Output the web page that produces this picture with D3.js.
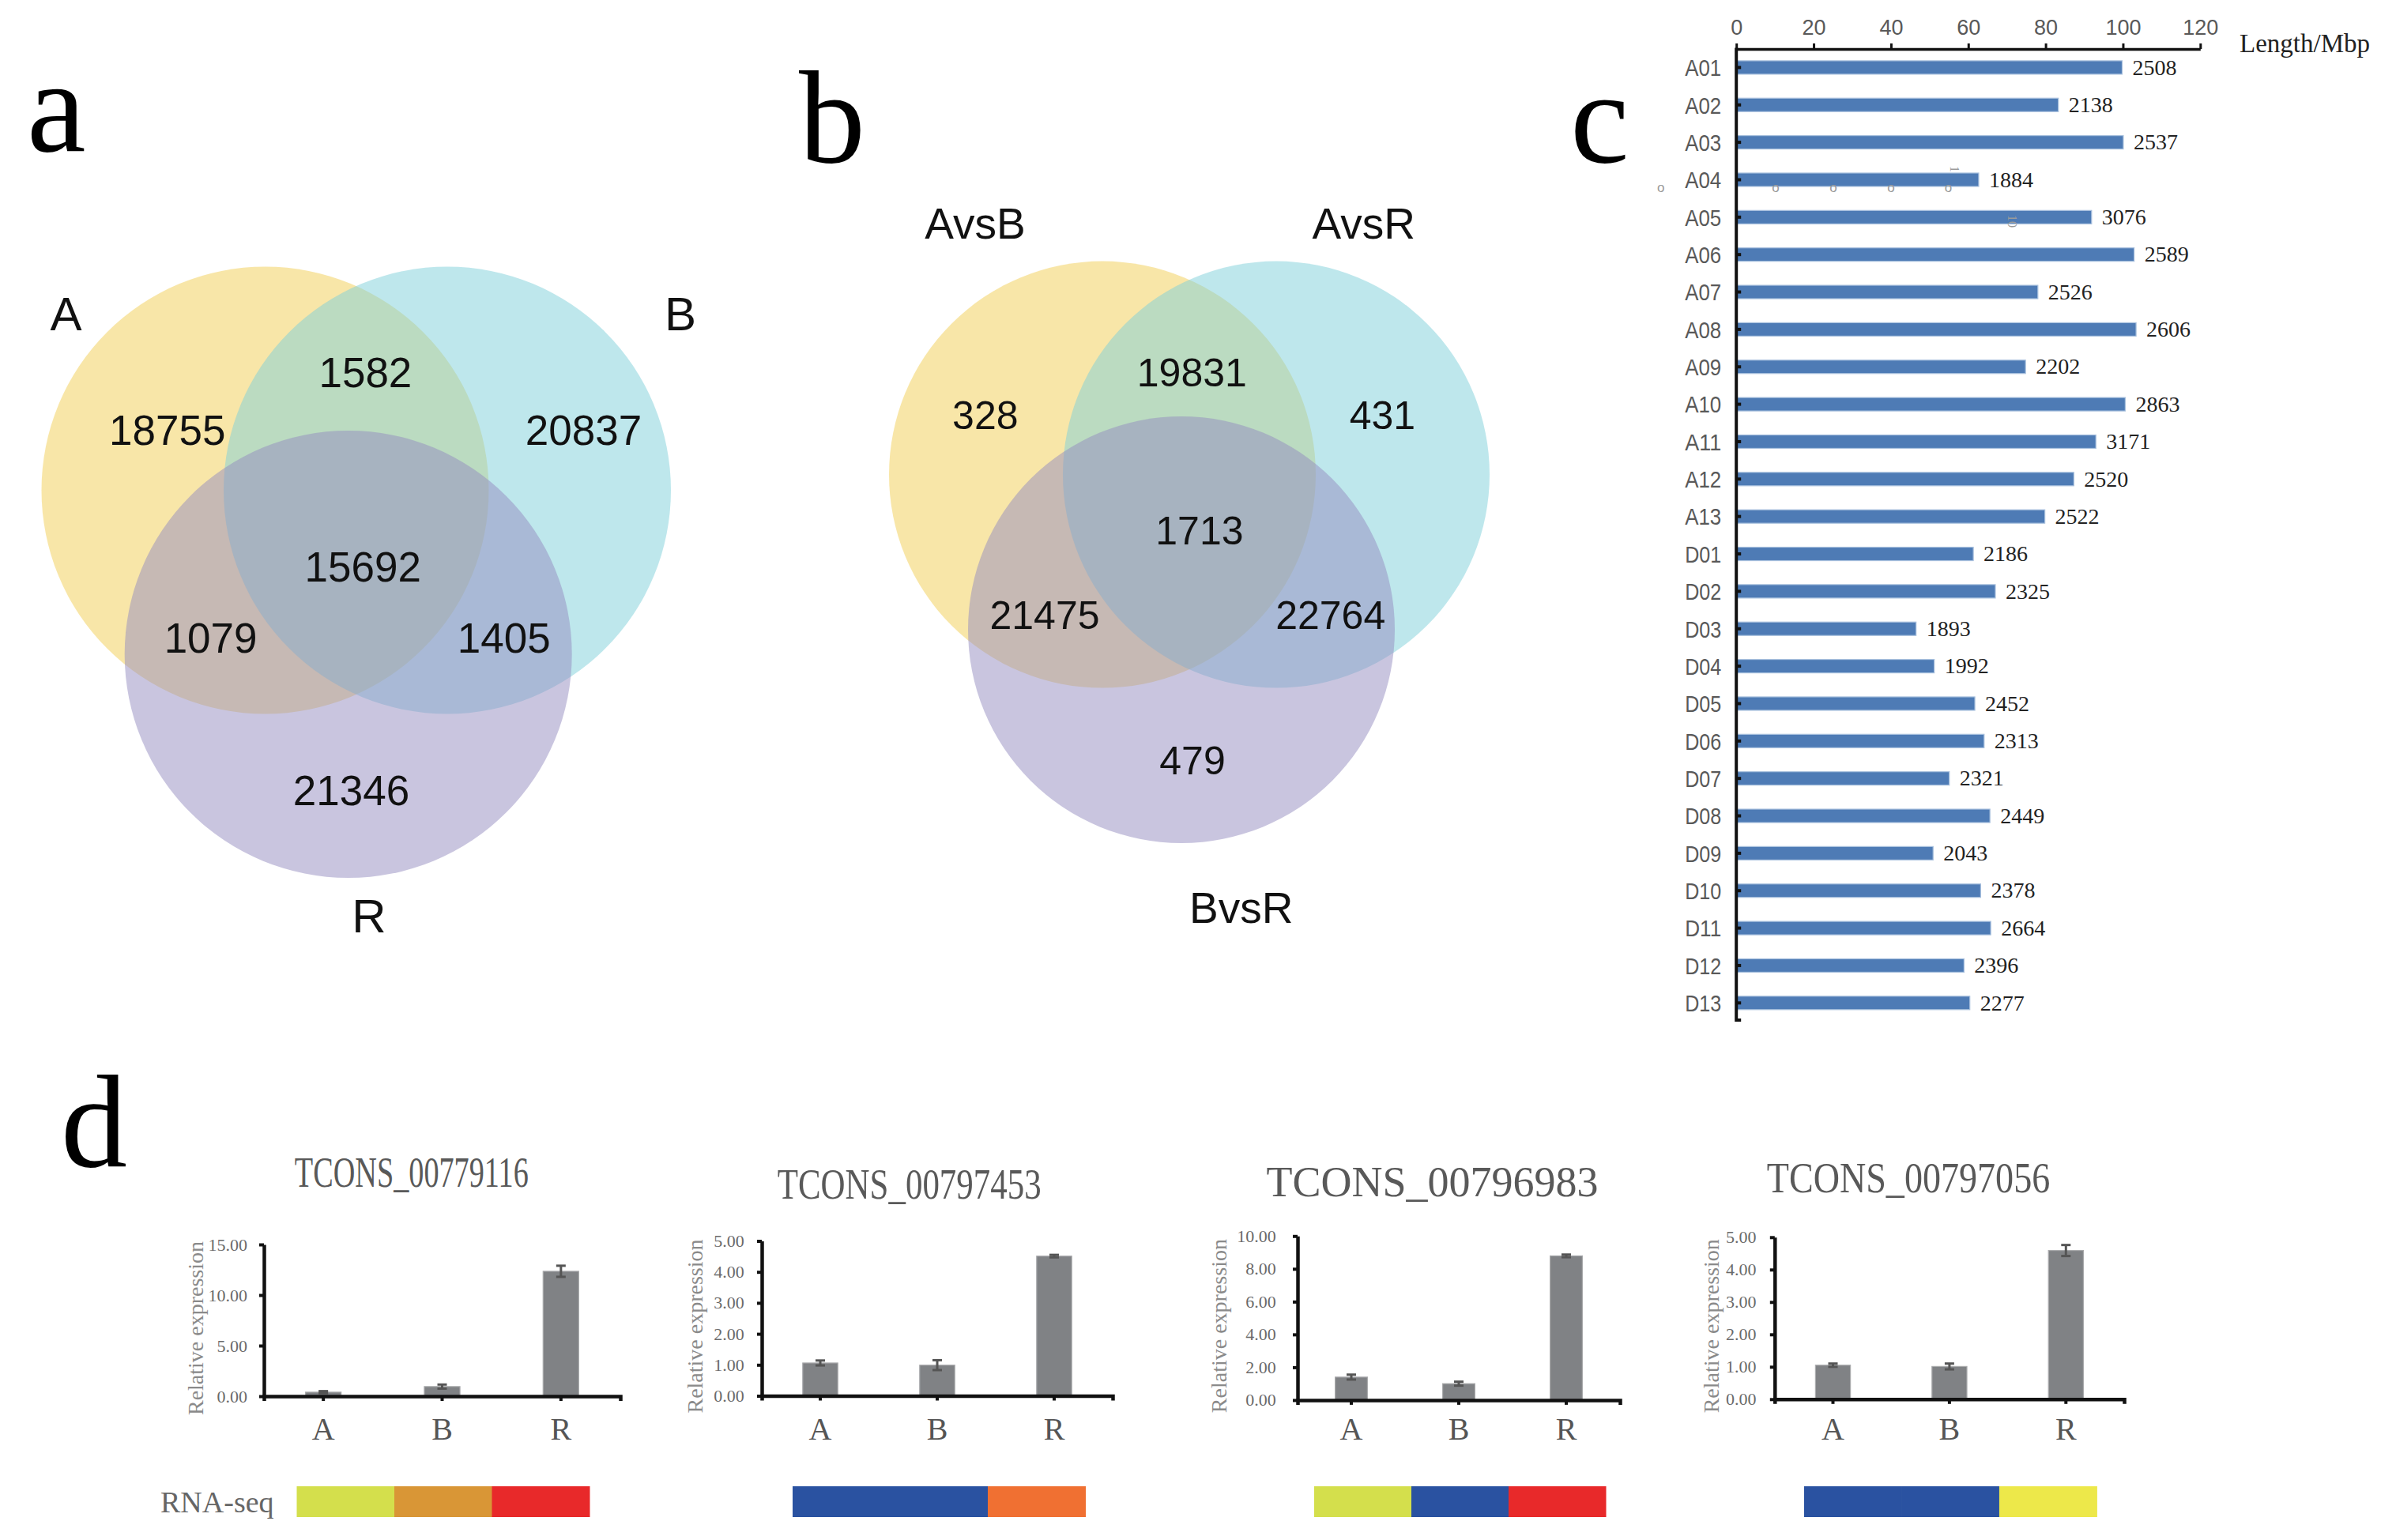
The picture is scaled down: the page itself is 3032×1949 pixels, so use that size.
<!DOCTYPE html>
<html>
<head>
<meta charset="utf-8">
<script src="https://cdn.jsdelivr.net/npm/d3@7/dist/d3.min.js"></script>
<style>
html,body{margin:0;padding:0;background:#fff;}
svg{display:block;}
</style>
</head>
<body>
<script>
// ---------------- DATA ----------------
// Panel a: Venn of lncRNA in A, B, R
const vennASets = ["A", "B", "R"];
const vennARegions = ["A", "B", "R", "AB", "AR", "BR", "ABR"];
const vennACounts = [18755, 20837, 21346, 1582, 1079, 1405, 15692];
// Panel b: Venn of comparisons
const vennBSets = ["AvsB", "AvsR", "BvsR"];
const vennBRegions = ["A", "B", "R", "AB", "AR", "BR", "ABR"];
const vennBCounts = [328, 431, 479, 19831, 21475, 22764, 1713];
// Panel c: chromosomes
const chromosomes = ["A01","A02","A03","A04","A05","A06","A07","A08","A09","A10","A11","A12","A13",
                     "D01","D02","D03","D04","D05","D06","D07","D08","D09","D10","D11","D12","D13"];
const chromLengthMbp = [99.8, 83.3, 100.1, 62.7, 91.9, 102.9, 78.0, 103.4, 74.8, 100.6, 93.0, 87.3, 79.8,
                        61.3, 67.0, 46.5, 51.2, 61.7, 64.1, 55.1, 65.6, 50.9, 63.2, 65.8, 58.9, 60.4];
const chromLncCount = [2508, 2138, 2537, 1884, 3076, 2589, 2526, 2606, 2202, 2863, 3171, 2520, 2522,
                       2186, 2325, 1893, 1992, 2452, 2313, 2321, 2449, 2043, 2378, 2664, 2396, 2277];
const lengthTicks = [0, 20, 40, 60, 80, 100, 120];
// Panel d: qRT-PCR
const genes = ["TCONS_00779116", "TCONS_00797453", "TCONS_00796983", "TCONS_00797056"];
const samples = ["A", "B", "R"];
const exprTCONS_00779116 = [0.40, 0.95, 12.35];
const errTCONS_00779116  = [0.10, 0.20, 0.55];
const exprTCONS_00797453 = [1.06, 0.99, 4.51];
const errTCONS_00797453  = [0.08, 0.16, 0.04];
const exprTCONS_00796983 = [1.40, 1.00, 8.79];
const errTCONS_00796983  = [0.15, 0.12, 0.08];
const exprTCONS_00797056 = [1.05, 1.01, 4.59];
const errTCONS_00797056  = [0.05, 0.09, 0.17];
const exprAxisMax  = [15, 5, 10, 5];
const exprAxisStep = [5, 1, 2, 1];
// RNA-seq heat strip colours (A, B, R)
const rnaSeqTCONS_00779116 = ["#D4DF4C", "#D99636", "#E8292A"];
const rnaSeqTCONS_00797453 = ["#2A52A1", "#2A52A1", "#F07032"];
const rnaSeqTCONS_00796983 = ["#D4DF4C", "#2A52A1", "#E8292A"];
const rnaSeqTCONS_00797056 = ["#2A52A1", "#2A52A1", "#EDE84A"];

// ---------------- LAYOUT ----------------
const W = 3032, H = 1949;
const SANS = "'Liberation Sans', Arial, sans-serif";
const SERIF = "'Liberation Serif', 'Times New Roman', serif";
const svg = d3.select("body").append("svg").attr("width", W).attr("height", H)
  .attr("viewBox", `0 0 ${W} ${H}`);

// Panel letters
const letters = [
  {t: "a", x: 34, y: 191},
  {t: "b", x: 1011, y: 205},
  {t: "c", x: 1987, y: 205},
  {t: "d", x: 77, y: 1476}
];
svg.selectAll("text.letter").data(letters).join("text")
  .attr("class", "letter").attr("x", d => d.x).attr("y", d => d.y)
  .attr("font-family", SERIF).attr("font-size", 168).attr("fill", "#000")
  .text(d => d.t);

// ---------------- VENN ----------------
const vennColors = ["#F1CD51", "#7DCFD9", "#938BBF"];
function drawVenn(g, sets, regions, counts, L) {
  g.selectAll("circle").data(sets).join("circle")
    .attr("cx", (d, i) => L.circles[i][0]).attr("cy", (d, i) => L.circles[i][1])
    .attr("r", L.r).attr("fill", (d, i) => vennColors[i]).attr("fill-opacity", 0.5);
  g.selectAll("text.cnt").data(regions).join("text").attr("class", "cnt")
    .attr("x", d => L.regionPos[d][0]).attr("y", d => L.regionPos[d][1] + 0.36 * L.numSize)
    .attr("text-anchor", "middle").attr("font-family", SANS).attr("font-size", L.numSize)
    .attr("fill", "#111").text((d, i) => counts[i]);
  g.selectAll("text.set").data(sets).join("text").attr("class", "set")
    .attr("x", (d, i) => L.setPos[i][0]).attr("y", (d, i) => L.setPos[i][1] + 0.36 * L.setSize)
    .attr("text-anchor", "middle").attr("font-family", SANS).attr("font-size", L.setSize)
    .attr("fill", "#111").text(d => d);
}
drawVenn(svg.append("g"), vennASets, vennARegions, vennACounts, {
  circles: [[335.5, 620.5], [566, 620.5], [440.7, 828]], r: 283,
  regionPos: {A: [211.7, 543.5], B: [738.5, 543.5], R: [444.5, 1000], AB: [462.4, 470.8],
              AR: [266.6, 807.4], BR: [637.8, 807.4], ABR: [459.2, 716.5]},
  setPos: [[83.5, 396], [861, 396], [467, 1158]], numSize: 53, setSize: 60
});
drawVenn(svg.append("g"), vennBSets, vennBRegions, vennBCounts, {
  circles: [[1395, 600.6], [1615, 600.6], [1495, 797]], r: 270,
  regionPos: {A: [1246.8, 525.3], B: [1749.4, 525.3], R: [1509, 961.6], AB: [1508.3, 470.8],
              AR: [1322, 778.3], BR: [1683.7, 778.3], ABR: [1517.9, 670.7]},
  setPos: [[1234, 281.8], [1725.8, 281.8], [1570.8, 1148.4]], numSize: 50, setSize: 55
});

// ---------------- PANEL C ----------------
(function () {
  const g = svg.append("g");
  const x = d3.scaleLinear().domain([0, 120]).range([2197.2, 2784.3]);
  const y = d3.scalePoint().domain(chromosomes).range([85.4, 1269.3]);
  const axisY = 62, axisBottom = 1293;
  // bars
  g.selectAll("rect.bar").data(chromosomes).join("rect").attr("class", "bar")
    .attr("x", x(0)).attr("y", d => y(d) - 8.5)
    .attr("width", (d, i) => x(chromLengthMbp[i]) - x(0)).attr("height", 17)
    .attr("fill", "#4E7BB5").attr("stroke", "#A9C1DE").attr("stroke-width", 1.2);
  // count labels
  g.selectAll("text.cnt").data(chromosomes).join("text").attr("class", "cnt")
    .attr("x", (d, i) => x(chromLengthMbp[i]) + 13).attr("y", d => y(d)).attr("dy", "0.33em")
    .attr("font-family", SERIF).attr("font-size", 28).attr("fill", "#222")
    .text((d, i) => chromLncCount[i]);
  // top axis
  const ax = g.append("g").attr("transform", `translate(0,${axisY})`)
    .call(d3.axisTop(x).tickValues(lengthTicks).tickSize(7).tickSizeOuter(0));
  ax.select(".domain").attr("stroke", "#111").attr("stroke-width", 3.5);
  ax.selectAll(".tick line").attr("stroke", "#111").attr("stroke-width", 3);
  ax.selectAll(".tick text").attr("y", -18).attr("dy", 0)
    .attr("font-family", SANS).attr("font-size", 27).attr("fill", "#595959");
  // left axis line
  g.append("line").attr("x1", x(0)).attr("x2", x(0)).attr("y1", axisY - 1.5).attr("y2", axisBottom)
    .attr("stroke", "#111").attr("stroke-width", 4);
  g.selectAll("line.tk").data(chromosomes.concat(["__end"])).join("line").attr("class", "tk")
    .attr("x1", x(0)).attr("x2", x(0) + 6)
    .attr("y1", d => d === "__end" ? axisBottom - 2 : y(d)).attr("y2", d => d === "__end" ? axisBottom - 2 : y(d))
    .attr("stroke", "#111").attr("stroke-width", 4);
  // chromosome labels
  g.selectAll("text.chr").data(chromosomes).join("text").attr("class", "chr")
    .attr("x", x(0) - 19).attr("y", d => y(d)).attr("dy", "0.36em").attr("text-anchor", "end")
    .attr("font-family", SANS).attr("font-size", 30).attr("fill", "#595959")
    .attr("textLength", 46).attr("lengthAdjust", "spacingAndGlyphs")
    .text(d => d);
  // unit label
  g.append("text").attr("x", 2834).attr("y", 66).attr("font-family", SERIF).attr("font-size", 33)
    .attr("fill", "#222").text("Length/Mbp");
  // faint stray glyphs present in the original figure
  const stray = [[2101.7, 243], [2247, 243], [2320, 243], [2393, 243], [2465.5, 243]];
  g.selectAll("text.stray").data(stray).join("text").attr("class", "stray")
    .attr("x", d => d[0]).attr("y", d => d[1]).attr("text-anchor", "middle")
    .attr("font-family", SANS).attr("font-size", 17).attr("fill", "#9a9a9a").text("o");
  g.append("text").attr("transform", "translate(2468,214) rotate(90)").attr("text-anchor", "middle")
    .attr("font-family", SERIF).attr("font-size", 16).attr("fill", "#9a9a9a").text("1");
  g.append("text").attr("transform", "translate(2541,280) rotate(90)").attr("text-anchor", "middle")
    .attr("font-family", SERIF).attr("font-size", 16).attr("fill", "#9a9a9a").text("10");
})();

// ---------------- PANEL D ----------------
const exprSeries = [exprTCONS_00779116, exprTCONS_00797453, exprTCONS_00796983, exprTCONS_00797056];
const errSeries = [errTCONS_00779116, errTCONS_00797453, errTCONS_00796983, errTCONS_00797056];
const rnaSeqSeries = [rnaSeqTCONS_00779116, rnaSeqTCONS_00797453, rnaSeqTCONS_00796983, rnaSeqTCONS_00797056];
const dLayout = [
  {x0: 334, x1: 785, y0: 1767, yTop: 1575, tX: 520.8, tY: 1501.6, tW: 296, ylX: 247.9, tickRight: 313, strip: [375.5, 746]},
  {x0: 964, x1: 1408, y0: 1766.5, yTop: 1570.5, tX: 1150.7, tY: 1517.2, tW: 334, ylX: 880.2, tickRight: 941.8, strip: [1003, 1373.5]},
  {x0: 1642, x1: 2050, y0: 1771.9, yTop: 1564.3, tX: 1812.5, tY: 1513.5, tW: 420, ylX: 1542.4, tickRight: 1614.7, strip: [1663, 2032]},
  {x0: 2245.8, x1: 2688, y0: 1770.8, yTop: 1565.8, tX: 2415, tY: 1508.8, tW: 358.5, ylX: 2165.4, tickRight: 2222.6, strip: [2283, 2653.4]}
];
genes.forEach((gene, k) => {
  const L = dLayout[k];
  const g = svg.append("g");
  const x = d3.scaleBand().domain(samples).range([L.x0, L.x1]).paddingInner(0.7).paddingOuter(0.35);
  const y = d3.scaleLinear().domain([0, exprAxisMax[k]]).range([L.y0, L.yTop]);
  const vals = exprSeries[k], errs = errSeries[k];
  // title
  g.append("text").attr("x", L.tX).attr("y", L.tY).attr("text-anchor", "middle")
    .attr("font-family", SERIF).attr("font-size", 54).attr("fill", "#595959")
    .attr("textLength", L.tW).attr("lengthAdjust", "spacingAndGlyphs").text(gene);
  // y label
  g.append("text").attr("transform", `translate(${L.ylX},${(L.y0 + L.yTop) / 2 + 10}) rotate(-90)`)
    .attr("text-anchor", "middle").attr("dy", "0.33em")
    .attr("font-family", SERIF).attr("font-size", 28).attr("fill", "#8a8a8a")
    .text("Relative expression");
  // bars
  g.selectAll("rect.bar").data(samples).join("rect").attr("class", "bar")
    .attr("x", d => x(d)).attr("width", x.bandwidth())
    .attr("y", (d, i) => y(vals[i])).attr("height", (d, i) => y(0) - y(vals[i]))
    .attr("fill", "#808285").attr("stroke", "#a9aaac").attr("stroke-width", 1.2);
  // error bars
  const eb = g.selectAll("g.err").data(samples).join("g").attr("class", "err");
  eb.append("line").attr("x1", d => x(d) + x.bandwidth() / 2).attr("x2", d => x(d) + x.bandwidth() / 2)
    .attr("y1", (d, i) => y(vals[i] + errs[i])).attr("y2", (d, i) => y(Math.max(0, vals[i] - errs[i])))
    .attr("stroke", "#555", ).attr("stroke-width", 3);
  eb.append("line").attr("x1", d => x(d) + x.bandwidth() / 2 - 6).attr("x2", d => x(d) + x.bandwidth() / 2 + 6)
    .attr("y1", (d, i) => y(vals[i] + errs[i])).attr("y2", (d, i) => y(vals[i] + errs[i]))
    .attr("stroke", "#555").attr("stroke-width", 3);
  eb.append("line").attr("x1", d => x(d) + x.bandwidth() / 2 - 6).attr("x2", d => x(d) + x.bandwidth() / 2 + 6)
    .attr("y1", (d, i) => y(Math.max(0, vals[i] - errs[i]))).attr("y2", (d, i) => y(Math.max(0, vals[i] - errs[i])))
    .attr("stroke", "#555").attr("stroke-width", 3);
  // y axis
  const ticks = d3.range(0, exprAxisMax[k] + 1e-9, exprAxisStep[k]);
  const ay = g.append("g").attr("transform", `translate(${L.x0},0)`)
    .call(d3.axisLeft(y).tickValues(ticks).tickFormat(d3.format(".2f")).tickSize(6).tickSizeOuter(0)
      .tickPadding(L.x0 - L.tickRight - 6));
  ay.select(".domain").attr("stroke", "#111").attr("stroke-width", 4.5);
  ay.selectAll(".tick line").attr("stroke", "#111").attr("stroke-width", 4);
  ay.selectAll(".tick text").attr("font-family", SERIF).attr("font-size", 22).attr("fill", "#6a6a6a");
  // x axis
  const axb = g.append("g").attr("transform", `translate(0,${L.y0})`)
    .call(d3.axisBottom(x).tickSize(6).tickSizeOuter(6));
  axb.select(".domain").attr("stroke", "#111").attr("stroke-width", 4.5);
  axb.selectAll(".tick line").attr("stroke", "#111").attr("stroke-width", 4);
  axb.selectAll(".tick text").attr("y", 1822 - L.y0).attr("dy", 0)
    .attr("font-family", SERIF).attr("font-size", 40).attr("fill", "#555")
    .attr("transform", null);
  // RNA-seq strip
  const sx = d3.scaleBand().domain(samples).range(L.strip);
  g.selectAll("rect.rs").data(samples).join("rect").attr("class", "rs")
    .attr("x", d => sx(d)).attr("width", sx.bandwidth() + 0.5)
    .attr("y", 1881).attr("height", 39)
    .attr("fill", (d, i) => rnaSeqSeries[k][i]);
});
svg.append("text").attr("x", 203).attr("y", 1914).attr("font-family", SERIF).attr("font-size", 38)
  .attr("fill", "#666").text("RNA-seq");
</script>
</body>
</html>
